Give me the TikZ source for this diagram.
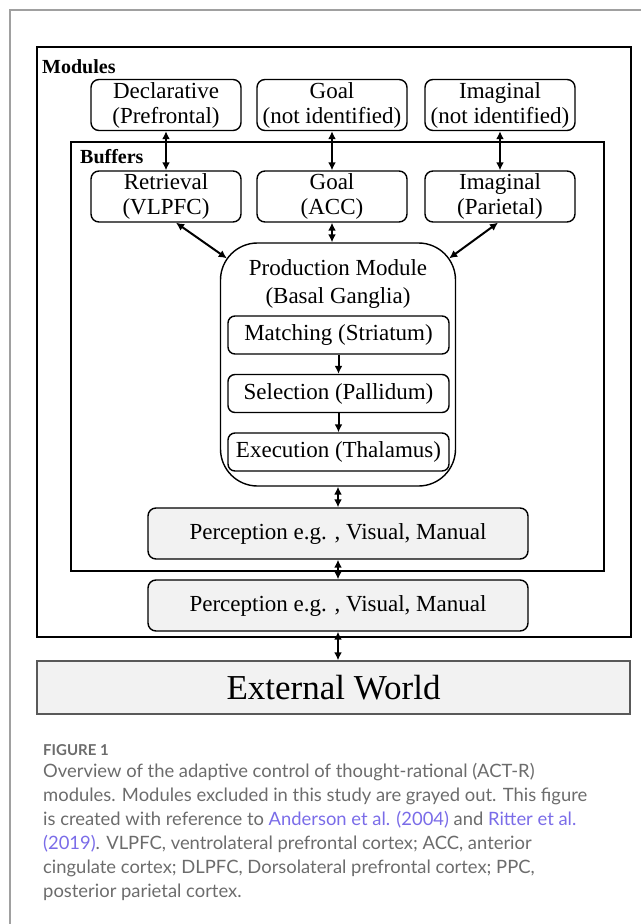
\documentclass[tikz,border=0pt]{standalone}
\usepackage{fontspec}
\setmainfont{Liberation Serif}
\newfontfamily\capfont{Lato}
\usetikzlibrary{arrows.meta,positioning}
\definecolor{boxgray}{RGB}{242,242,242}
\definecolor{framegray}{RGB}{160,160,160}
\definecolor{capgray}{RGB}{108,108,108}
\definecolor{linkblue}{RGB}{122,108,232}
\tikzset{
        boxtext/.style={font=\fontsize{23}{25}\selectfont, align=center, inner sep=0pt},
        % Module and buffer boxes
        unitbox/.style={boxtext, draw, line width=1.4pt, rounded corners=8pt, minimum width=150pt, minimum height=51pt},
        % Big frames
        areabox/.style={draw, line width=1.6pt, inner sep=0pt},
        areatitle/.style={font=\fontsize{20}{22}\selectfont\bfseries, anchor=west, inner sep=0pt},
        % Production stages
        stagebox/.style={boxtext, draw, line width=1.4pt, rounded corners=7pt, minimum width=221pt, minimum height=38pt},
        % Perception boxes
        percbox/.style={boxtext, draw, fill=boxgray, line width=1.4pt, rounded corners=8pt, minimum width=380pt, minimum height=51pt},
        biarrow/.style={<->, line width=2pt},
        onearrow/.style={->, line width=2pt}
}

\begin{document}
\begin{tikzpicture}[
            x=1pt, y=-1pt,
            >={Latex[length=8pt,width=8pt]}
        ]
            \useasboundingbox (0,0) rectangle (641,924);
            \draw[framegray, line width=2pt] (10,924) -- (10,10) -- (641,10);

            \node[areabox, minimum width=594pt, minimum height=590pt] (modules) at (334,342) {};
            \node[areatitle] (modlabel) at (42,67) {Modules};
            \node[areabox, minimum width=533pt, minimum height=429pt] (buffers) at (337.5,356.5) {};
            \node[areatitle] (buflabel) at (80,157) {Buffers};

            \node[unitbox] (decl) at (166,105) {Declarative\\(Prefrontal)};
            \node[unitbox] (goalmod) at (332,105) {Goal\\(not identified)};
            \node[unitbox] (imagmod) at (500,105) {Imaginal\\(not identified)};

            \node[unitbox] (retr) at (166,196.5) {Retrieval\\(VLPFC)};
            \node[unitbox] (goalbuf) at (332,196.5) {Goal\\(ACC)};
            \node[unitbox] (imagbuf) at (500,196.5) {Imaginal\\(Parietal)};

            \node[draw, line width=1.4pt, rounded corners=37pt, minimum width=235pt, minimum height=243pt] (prod) at (338,364.5) {};
            \node[boxtext, font=\fontsize{23}{28}\selectfont] (prodtitle) at (338,284) {Production Module\\(Basal Ganglia)};
            \node[stagebox] (match) at (338.5,335) {Matching (Striatum)};
            \node[stagebox] (sel) at (338.5,393.5) {Selection (Pallidum)};
            \node[stagebox] (exec) at (338.5,452) {Execution (Thalamus)};

            \node[percbox] (percin) at (338,533.5) {Perception e.g. , Visual, Manual};
            \node[percbox] (percout) at (338,605.5) {Perception e.g. , Visual, Manual};
            \node[draw=black!65, fill=boxgray, line width=1.5pt, minimum width=593pt, minimum height=53pt, font=\fontsize{35}{38}\selectfont, inner sep=0pt] (world) at (333.5,687.5) {External World};

            \draw[biarrow] (decl.south) -- (retr.north);
            \draw[biarrow] (goalmod.south) -- (goalbuf.north);
            \draw[biarrow] (imagmod.south) -- (imagbuf.north);
            \draw[biarrow] ([xshift=10pt]retr.south) -- ([shift={(7,16)}]prod.north west);
            \draw[biarrow] (goalbuf.south) -- (goalbuf.south |- prod.north);
            \draw[biarrow] ([xshift=-2pt]imagbuf.south) -- ([shift={(-7,16)}]prod.north east);
            \draw[onearrow] (match.south) -- (sel.north);
            \draw[onearrow] (sel.south) -- (exec.north);
            \draw[biarrow] (prod.south) -- (percin.north);
            \draw[biarrow] (percin.south) -- (percout.north);
            \draw[biarrow] (percout.south) -- (percout.south |- world.north);

            \node[anchor=base west, inner sep=0pt, text=capgray, font=\capfont\bfseries\fontsize{15}{18}\selectfont] (figlabel) at (43,755) {FIGURE 1};
            \node[anchor=north west, inner sep=0pt, align=left, text=capgray, font=\capfont\fontsize{18.4}{24}\selectfont] (caption) at (43,763) {Overview of the adaptive control of thought-rational (ACT-R)\\
modules. Modules excluded in this study are grayed out. This figure\\
is created with reference to \textcolor{linkblue}{Anderson et al. (2004)} and \textcolor{linkblue}{Ritter et al.}\\
\textcolor{linkblue}{(2019)}. VLPFC, ventrolateral prefrontal cortex; ACC, anterior\\
cingulate cortex; DLPFC, Dorsolateral prefrontal cortex; PPC,\\
posterior parietal cortex.};
        \end{tikzpicture}
\end{document}
